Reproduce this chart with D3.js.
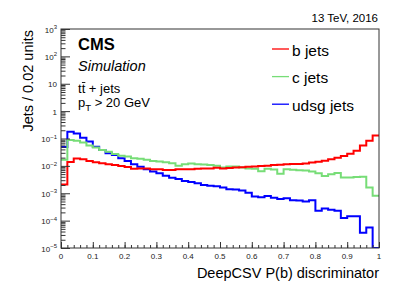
<!DOCTYPE html>
<html>
<head>
<meta charset="utf-8">
<script src="https://cdn.jsdelivr.net/npm/d3@7"></script>
<style>
  body { margin: 0; background: #fff; }
  svg { display: block; font-family: "Liberation Sans", Arial, sans-serif; }
</style>
</head>
<body>
<svg id="chart" width="407" height="293"></svg>
<script>
// histogram binning: 50 bins of 0.02 from 0 to 1
var binEdges = d3.range(0, 51).map(function(i){ return i * 0.02; });

// jets per bin (0 = empty bin)
var bJets = [0.0021, 0.0138, 0.0186, 0.0174, 0.0151, 0.0135, 0.0126, 0.0115, 0.0107, 0.0100,
  0.0091, 0.0079, 0.0081, 0.0081, 0.0076, 0.0076, 0.0071, 0.0071, 0.0076, 0.0076,
  0.0076, 0.0078, 0.0081, 0.0081, 0.0085, 0.0081, 0.0083, 0.0087, 0.0089, 0.0093,
  0.0095, 0.0100, 0.0102, 0.0107, 0.0110, 0.0115, 0.0117, 0.0117, 0.0123, 0.0132,
  0.0141, 0.0155, 0.0174, 0.0200, 0.0229, 0.0275, 0.036, 0.055, 0.083, 0.129];

var cJets = [0.0166, 0.089, 0.083, 0.071, 0.055, 0.047, 0.038, 0.033, 0.027, 0.0234,
  0.0219, 0.0190, 0.0182, 0.0166, 0.0151, 0.0145, 0.0135, 0.0126, 0.0102, 0.0115,
  0.0123, 0.0115, 0.0112, 0.0107, 0.0102, 0.0087, 0.0095, 0.0095, 0.0087, 0.0081,
  0.0078, 0.0063, 0.0078, 0.0074, 0.0052, 0.0076, 0.0072, 0.0069, 0.0068, 0.0062,
  0.0054, 0.0043, 0.0049, 0.0055, 0.0038, 0.0038, 0.0039, 0.0040, 0.00162, 0.00081];

var udsgJets = [0.049, 0.178, 0.151, 0.107, 0.078, 0.050, 0.038, 0.029, 0.025, 0.019,
  0.0151, 0.0115, 0.0093, 0.0076, 0.0062, 0.0054, 0.0044, 0.0037, 0.0033, 0.0028,
  0.0026, 0.0023, 0.0020, 0.00186, 0.00182, 0.00162, 0.00141, 0.00138, 0.00126, 0.00105,
  0.00076, 0.00071, 0.00079, 0.00069, 0.00062, 0.00066, 0.00055, 0.00054, 0.00050, 0.00055,
  0.00023, 0.000275, 0.00025, 0.00023, 0.000126, 0.000145, 0.000145, 0.000036, 0.000056, 0];

var seriesNames = ['b jets', 'c jets', 'udsg jets'];
var seriesColors = ['#ff0000', '#77dd77', '#0000ff'];
var seriesValues = [bJets, cJets, udsgJets];

var xTicks = [0, 0.1, 0.2, 0.3, 0.4, 0.5, 0.6, 0.7, 0.8, 0.9, 1];
var xTickLabels = ['0', '0.1', '0.2', '0.3', '0.4', '0.5', '0.6', '0.7', '0.8', '0.9', '1'];
var yDecades = [3, 2, 1, 0, -1, -2, -3, -4, -5];

var svg = d3.select('#chart');
var width = +svg.attr('width');
var height = +svg.attr('height');

var margin = {top: 29, right: 28, bottom: 45, left: 61};
var pw = width - margin.left - margin.right;
var ph = height - margin.top - margin.bottom;

var x = d3.scaleLinear().domain([0, 1]).range([margin.left, margin.left + pw]);
var y = d3.scaleLog().domain([1e-5, 1e3]).range([margin.top + ph, margin.top]).clamp(true);

var axisColor = '#333';

// histograms (drawn before the frame, clipped to it)
svg.append('clipPath').attr('id', 'plotclip')
  .append('rect')
  .attr('x', margin.left).attr('y', margin.top)
  .attr('width', pw).attr('height', ph);

var stepLine = d3.line()
  .x(function(d){ return x(d.x); })
  .y(function(d){ return y(d.v > 0 ? d.v : 1e-5); })
  .curve(d3.curveStepAfter);

// blue first, then green, then red on top
[2, 1, 0].forEach(function(s){
  var vals = seriesValues[s];
  var pts = vals.map(function(v, i){ return {x: binEdges[i], v: v}; });
  pts.push({x: binEdges[binEdges.length - 1], v: vals[vals.length - 1]});
  svg.append('path')
    .attr('d', stepLine(pts))
    .attr('fill', 'none')
    .attr('stroke', seriesColors[s])
    .attr('stroke-width', 2)
    .attr('clip-path', 'url(#plotclip)');
});

// frame
svg.append('rect')
  .attr('x', margin.left).attr('y', margin.top)
  .attr('width', pw).attr('height', ph)
  .attr('fill', 'none')
  .attr('stroke', axisColor)
  .attr('stroke-width', 1);

// x axis ticks (pointing inward)
var xMajor = d3.axisBottom(x).tickValues(xTicks).tickSize(-6).tickFormat('');
var xMinor = d3.axisBottom(x).tickValues(binEdges).tickSize(-3).tickFormat('');
var gx = svg.append('g').attr('transform', 'translate(0,' + (margin.top + ph) + ')');
gx.append('g').call(xMinor);
gx.append('g').call(xMajor);
gx.selectAll('.domain').remove();
gx.selectAll('line').attr('stroke', axisColor);

svg.selectAll('.xlab').data(xTicks).enter().append('text')
  .attr('class', 'xlab')
  .attr('x', function(d){ return x(d); })
  .attr('y', margin.top + ph + 10.5)
  .attr('text-anchor', 'middle')
  .attr('font-size', 8)
  .attr('fill', '#222')
  .text(function(d, i){ return xTickLabels[i]; });

// y axis ticks, log, with minor ticks
var yMinorVals = [];
for (var k = -5; k < 3; k++) {
  for (var m = 2; m <= 9; m++) yMinorVals.push(m * Math.pow(10, k));
}
var yMajor = d3.axisLeft(y).tickValues(yDecades.map(function(e){ return Math.pow(10, e); })).tickSize(-9).tickFormat('');
var yMinor = d3.axisLeft(y).tickValues(yMinorVals).tickSize(-4.5).tickFormat('');
var gy = svg.append('g').attr('transform', 'translate(' + margin.left + ',0)');
gy.append('g').call(yMinor);
gy.append('g').call(yMajor);
gy.selectAll('.domain').remove();
gy.selectAll('line').attr('stroke', axisColor);

var ylab = svg.selectAll('.ylab').data(yDecades).enter().append('text')
  .attr('class', 'ylab')
  .attr('x', margin.left - 4)
  .attr('y', function(d){ return y(Math.pow(10, d)) + 3.5; })
  .attr('text-anchor', 'end')
  .attr('font-size', 8)
  .attr('fill', '#222');
ylab.each(function(d){
  var t = d3.select(this);
  if (d === 0) { t.text('1'); return; }
  if (d === 1) { t.text('10'); return; }
  t.append('tspan').text('10');
  t.append('tspan').attr('dy', -3.5).attr('font-size', 6)
    .text(d < 0 ? '\u2212' + (-d) : String(d));
});

// axis titles
svg.append('text')
  .attr('x', margin.left + pw)
  .attr('y', 278)
  .attr('text-anchor', 'end')
  .attr('font-size', 14.5)
  .text('DeepCSV P(b) discriminator');

svg.append('text')
  .attr('transform', 'translate(33,' + (margin.top + 1) + ') rotate(-90)')
  .attr('text-anchor', 'end')
  .attr('font-size', 14.5)
  .text('Jets / 0.02 units');

// header and labels
svg.append('text')
  .attr('x', margin.left + pw - 1)
  .attr('y', 21.5)
  .attr('text-anchor', 'end')
  .attr('font-size', 11.5)
  .text('13 TeV, 2016');

svg.append('text')
  .attr('x', 78).attr('y', 49.5)
  .attr('font-size', 16.5)
  .attr('font-weight', 'bold')
  .text('CMS');

svg.append('text')
  .attr('x', 78).attr('y', 70.5)
  .attr('font-size', 14.5)
  .attr('font-style', 'italic')
  .text('Simulation');

var tt = svg.append('text')
  .attr('x', 78).attr('y', 93)
  .attr('font-size', 13);
tt.append('tspan').text('t');
tt.append('tspan').attr('id', 'tbar').text('t');
tt.append('tspan').text(' + jets');
// bar over the second t
var tbar = document.getElementById('tbar');
var tb = tbar.getBBox();
svg.append('line')
  .attr('x1', tb.x + 0.3).attr('x2', tb.x + tb.width - 0.3)
  .attr('y1', tb.y + 1.5).attr('y2', tb.y + 1.5)
  .attr('stroke', '#000').attr('stroke-width', 0.9);

var pt = svg.append('text')
  .attr('x', 78).attr('y', 107)
  .attr('font-size', 13);
pt.append('tspan').text('p');
pt.append('tspan').attr('dy', 3.5).attr('font-size', 9.5).text('T');
pt.append('tspan').attr('dy', -3.5).text(' > 20 GeV');

// legend
var legend = svg.selectAll('.leg').data(seriesNames).enter().append('g')
  .attr('class', 'leg')
  .attr('transform', function(d, i){ return 'translate(272,' + (49 + i * 27.6) + ')'; });
legend.append('line')
  .attr('x1', 0).attr('x2', 17)
  .attr('y1', 0).attr('y2', 0)
  .attr('stroke', function(d, i){ return seriesColors[i]; })
  .attr('stroke-width', 1.3);
legend.append('text')
  .attr('x', 20).attr('y', 6.5)
  .attr('font-size', 15.5)
  .text(function(d){ return d; });
</script>
</body>
</html>
